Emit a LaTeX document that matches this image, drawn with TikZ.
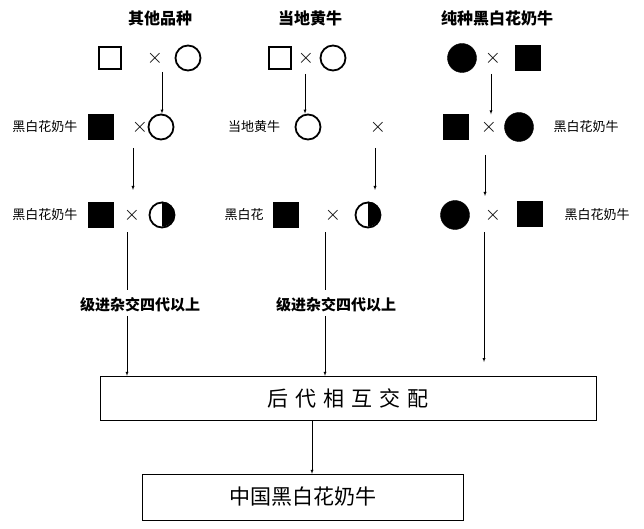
\documentclass[tikz,border=0pt]{standalone}
\usepackage{fontspec}
\newfontfamily\cjk{Noto Sans CJK SC}
\usetikzlibrary{positioning}
\tikzset{
  male/.style={draw, line width=1.8pt, minimum size=22pt, inner sep=0pt},
  fmale/.style={draw, fill=black, minimum size=25pt, inner sep=0pt},
  female/.style={circle, draw, line width=1.8pt, minimum size=25pt, inner sep=0pt},
  ffemale/.style={circle, draw, fill=black, minimum size=29pt, inner sep=0pt},
  cross/.style={font=\fontsize{22}{22}\selectfont},
  lbl/.style={font=\cjk\fontsize{13}{15}\selectfont},
  head/.style={font=\cjk\bfseries\fontsize{16}{18}\selectfont},
  grade/.style={font=\cjk\bfseries\fontsize{15}{17}\selectfont},
  arr/.style={-latex, thin},
  boxed/.style={draw, font=\cjk\fontsize{21}{24}\selectfont, minimum height=44pt},
}
\begin{document}
\begin{tikzpicture}[x=1pt, y=-1pt]
    \useasboundingbox (0,0) rectangle (644,529);

    % headings
    \node[head] (h1) at (160, 18) {其他品种};
    \node[head] (h2) at (310, 18) {当地黄牛};
    \node[head] (h3) at (497, 18) {纯种黑白花奶牛};

    % first row
    \node[male] (a1) at (110, 58) {};
    \node[cross] (x1) at (155, 58) {$\times$};
    \node[female] (b1) at (188, 58) {};
    \node[male] (a2) at (280, 58) {};
    \node[cross] (x2) at (306, 58) {$\times$};
    \node[female] (b2) at (333, 58) {};
    \node[ffemale] (a3) at (462, 58) {};
    \node[cross] (x3) at (493, 58) {$\times$};
    \node[fmale] (b3) at (528, 58) {};

    % second row
    \node[lbl] (l1) at (45, 127) {黑白花奶牛};
    \node[fmale] (c1) at (101, 127) {};
    \node[cross] (y1) at (140, 127) {$\times$};
    \node[female] (d1) at (161, 127) {};
    \node[lbl] (l2) at (254, 127) {当地黄牛};
    \node[female] (d2) at (308, 127) {};
    \node[cross] (y2) at (378, 127) {$\times$};
    \node[fmale] (c3) at (456, 127) {};
    \node[cross] (y3) at (489, 127) {$\times$};
    \node[ffemale] (d3) at (519, 127) {};
    \node[lbl] (l3) at (586, 127) {黑白花奶牛};

    % third row
    \node[lbl] (m1) at (45, 215) {黑白花奶牛};
    \node[fmale] (e1) at (101, 215) {};
    \node[cross] (z1) at (132, 215) {$\times$};
    \node[female] (f1) at (162, 215) {};
    \fill (f1.north) arc (90:-90:12.5pt) -- cycle;
    \node[lbl] (m2) at (244, 215) {黑白花};
    \node[fmale] (e2) at (286, 215) {};
    \node[cross] (z2) at (333, 215) {$\times$};
    \node[female] (f2) at (368, 215) {};
    \fill (f2.north) arc (90:-90:12.5pt) -- cycle;
    \node[ffemale] (e3) at (455, 215) {};
    \node[cross] (z3) at (493, 215) {$\times$};
    \node[fmale] (f3) at (530, 214) {};
    \node[lbl] (m3) at (597, 215) {黑白花奶牛};

    % boxes
    \node[boxed, minimum width=496pt] (p) at (348, 398) {后\,\,代\,\,相\,\,互\,\,交\,\,配};
    \node[boxed, minimum width=321pt, minimum height=46pt] (q) at (303, 497) {中国黑白花奶牛};

    % arrows
    \coordinate (s1) at (162, 72);
    \coordinate (s2) at (305, 74);
    \coordinate (s3) at (491, 74);
    \draw[arr] (s1) -- (s1 |- d1.north);
    \draw[arr] (s2) -- (s2 |- d2.north);
    \draw[arr] (s3) -- (s3 |- c3.north);
    \coordinate (t1) at (133, 148);
    \coordinate (t2) at (375, 148);
    \coordinate (t3) at (485, 155);
    \draw[arr] (t1) -- (133, 190);
    \draw[arr] (t2) -- (375, 190);
    \draw[arr] (t3) -- (485, 196);
    \coordinate (u1) at (127, 232);
    \coordinate (u2) at (325, 232);
    \coordinate (u3) at (484, 232);
    \draw (u1) -- (127, 290);
    \node[grade] (g1) at (140, 305) {级进杂交四代以上};
    \draw[arr] (g1.south -| u1) -- (u1 |- p.north);
    \draw (u2) -- (325, 290);
    \node[grade] (g2) at (336, 305) {级进杂交四代以上};
    \draw[arr] (g2.south -| u2) -- (u2 |- p.north);
    \draw[arr] (u3) -- (484, 362);
    \draw[arr] (p.south -| 312,0) -- (q.north -| 312,0);
\end{tikzpicture}
\end{document}
